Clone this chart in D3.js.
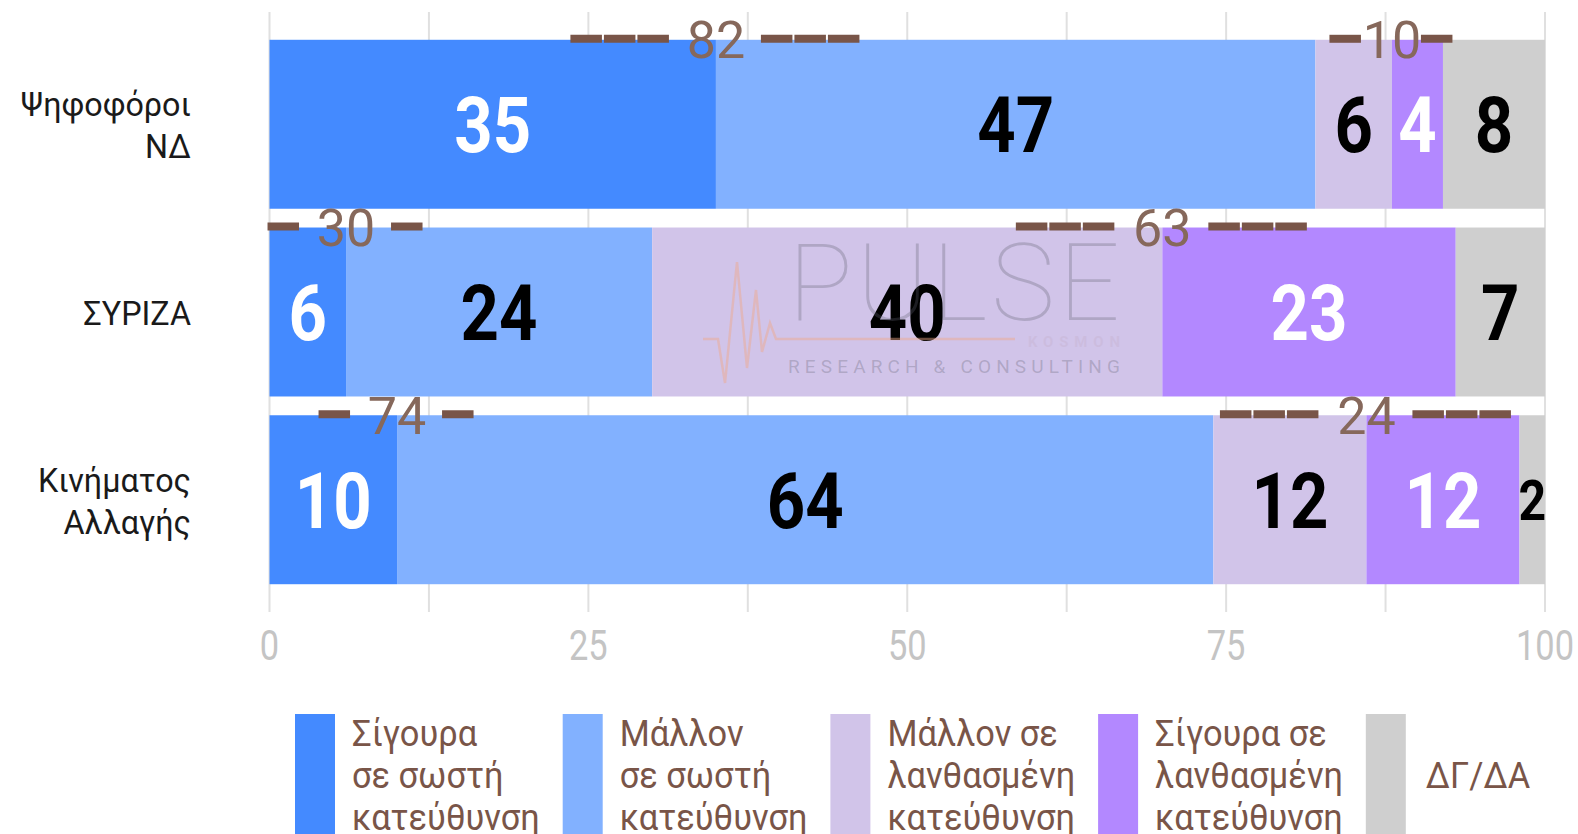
<!DOCTYPE html>
<html>
<head>
<meta charset="utf-8">
<script src="https://cdn.jsdelivr.net/npm/d3@7"></script>
<style>
  body { margin: 0; background: #fff; }
  text { font-family: Roboto, "Noto Sans", sans-serif; }
</style>
</head>
<body>
<script>
// chart data
var categories = ["Ψηφοφόροι ΝΔ", "ΣΥΡΙΖΑ", "Κινήματος Αλλαγής"];
var seriesKeys = ["s0", "s1", "s2", "s3", "s4"];
var surelyRight = [35, 6, 10];
var ratherRight = [47, 24, 64];
var ratherWrong = [6, 40, 12];
var surelyWrong = [4, 23, 12];
var dkNa = [8, 7, 2];
var legendLabels = [
    ["Σίγουρα", "σε σωστή", "κατεύθυνση"],
    ["Μάλλον", "σε σωστή", "κατεύθυνση"],
    ["Μάλλον σε", "λανθασμένη", "κατεύθυνση"],
    ["Σίγουρα σε", "λανθασμένη", "κατεύθυνση"],
    ["ΔΓ/ΔΑ"]
];
var xTicks = [0, 25, 50, 75, 100];
// totals shown above the bars: pairs of series that get summed
var annotGroups = [[0, 1], [2, 3]];
var annotDashes = [[3, 1], [1, 3], [1, 3]];
var annotGap = [[45, 29], [45, 46], [45, 46]];

var colors = ["#448aff", "#82b1ff", "#d1c4e9", "#b388ff", "#cfcfcf"];
var labelColors = ["#fff", "#000", "#000", "#fff", "#000"];
var brown = "#795548";

var width = 1578, height = 834;

var rows = categories.map(function (c, i) {
    return {cat: c, s0: surelyRight[i], s1: ratherRight[i], s2: ratherWrong[i], s3: surelyWrong[i], s4: dkNa[i]};
});

var svg = d3.select("body").append("svg")
    .attr("width", width)
    .attr("height", height);

var x = d3.scaleLinear().domain([0, 100]).range([269.5, 1545]);
var y = d3.scaleBand().domain(categories).range([12, 612])
    .paddingInner(0.1).paddingOuter(0.148);

// gridlines every 12.5
var grid = d3.range(0, 100.01, 12.5);
svg.append("g").selectAll("line").data(grid).enter().append("line")
    .attr("x1", function (d) { return x(d); })
    .attr("x2", function (d) { return x(d); })
    .attr("y1", 12)
    .attr("y2", 612)
    .attr("stroke", "#e0e0e0")
    .attr("stroke-width", 2);

// tick labels (condensed look)
svg.append("g").selectAll("text").data(xTicks).enter().append("text")
    .attr("transform", function (d) { return "translate(" + x(d) + ",660) scale(0.8,1)"; })
    .attr("text-anchor", "middle")
    .attr("font-size", 43)
    .attr("fill", "#c4c4c4")
    .text(function (d) { return d; });

var stack = d3.stack().keys(seriesKeys)(rows);

var layers = svg.append("g").selectAll("g").data(stack).enter().append("g")
    .attr("fill", function (d, i) { return colors[i]; });

layers.selectAll("rect").data(function (d) { return d; }).enter().append("rect")
    .attr("x", function (d) { return x(d[0]); })
    .attr("y", function (d) { return y(d.data.cat); })
    .attr("width", function (d) { return x(d[1]) - x(d[0]); })
    .attr("height", y.bandwidth());

// watermark
var wm = svg.append("g").attr("pointer-events", "none");
wm.append("path")
    .attr("d", "M703,339 L718,339 L725,383 L737,262 L747,368 L756,290 L762,352 L770,323 L776,339 L1015,339")
    .attr("fill", "none")
    .attr("stroke", "#f0a888")
    .attr("stroke-opacity", 0.45)
    .attr("stroke-width", 2.5);
wm.append("text")
    .attr("x", 788).attr("y", 320)
    .attr("textLength", 332)
    .attr("font-family", "Lato, Roboto, sans-serif")
    .attr("font-weight", 100)
    .attr("font-size", 108)
    .attr("fill", "#5f5f6f")
    .attr("fill-opacity", 0.3)
    .text("PULSE");
wm.append("text")
    .attr("x", 1028).attr("y", 347)
    .attr("textLength", 92)
    .attr("font-weight", 700)
    .attr("font-size", 15)
    .attr("fill", "#c9b8d8")
    .attr("fill-opacity", 0.6)
    .text("KOSMON");
wm.append("text")
    .attr("x", 788).attr("y", 373)
    .attr("textLength", 332)
    .attr("font-size", 19)
    .attr("fill", "#5f5f6f")
    .attr("fill-opacity", 0.3)
    .text("RESEARCH & CONSULTING");

// value labels inside the segments
layers.selectAll("text").data(function (d, i) {
        return d.map(function (p) { return {p: p, i: i}; });
    }).enter().append("text")
    .attr("transform", function (d) {
        var cx = (x(d.p[0]) + x(d.p[1])) / 2;
        var w = x(d.p[1]) - x(d.p[0]);
        var fs = Math.min(78, w * 2.2);
        var cy = y(d.p.data.cat) + y.bandwidth() / 2 + fs * 0.36;
        return "translate(" + cx + "," + cy + ") scale(0.86,1)";
    })
    .attr("text-anchor", "middle")
    .attr("font-weight", 700)
    .attr("font-size", function (d) { return Math.min(78, (x(d.p[1]) - x(d.p[0])) * 2.2); })
    .attr("fill", function (d) { return labelColors[d.i]; })
    .text(function (d) { return d.p[1] - d.p[0]; });

// category labels
var catG = svg.append("g").selectAll("text").data(categories).enter().append("text")
    .attr("text-anchor", "end")
    .attr("font-size", 34)
    .attr("fill", "#1a1a1a")
    .attr("transform", "translate(191,0) scale(0.95,1)");
catG.each(function (d) {
    var lines = d.split(" ");
    var cy = y(d) + y.bandwidth() / 2;
    var t = d3.select(this);
    lines.forEach(function (l, k) {
        t.append("tspan")
            .attr("x", 0)
            .attr("y", cy + 13 + (k - (lines.length - 1) / 2) * 42)
            .text(l);
    });
});

// pair totals with dashed rules on the bar top edge
var annots = [];
categories.forEach(function (c, ci) {
    annotGroups.forEach(function (g, gi) {
        var a = stack[g[0]][ci], b = stack[g[1]][ci];
        annots.push({
            cx: x(a[1]),
            top: y(c),
            total: (a[1] - a[0]) + (b[1] - b[0]),
            n: annotDashes[ci][gi],
            gap: annotGap[ci][gi]
        });
    });
});

var annG = svg.append("g").selectAll("g").data(annots).enter().append("g");
annG.append("line")
    .attr("x1", function (d) { return d.cx - d.gap - d.n * 33.5; })
    .attr("x2", function (d) { return d.cx - d.gap; })
    .attr("y1", function (d) { return d.top - 1; })
    .attr("y2", function (d) { return d.top - 1; });
annG.append("line")
    .attr("x1", function (d) { return d.cx + d.gap; })
    .attr("x2", function (d) { return d.cx + d.gap + d.n * 33.5; })
    .attr("y1", function (d) { return d.top - 1; })
    .attr("y2", function (d) { return d.top - 1; });
annG.selectAll("line")
    .attr("stroke", brown)
    .attr("stroke-width", 8)
    .attr("stroke-dasharray", "31.5,2");
annG.append("text")
    .attr("x", function (d) { return d.cx; })
    .attr("y", function (d) { return d.top + 18.5; })
    .attr("text-anchor", "middle")
    .attr("font-size", 52)
    .attr("fill", "#86685b")
    .text(function (d) { return d.total; });

// legend
var legend = svg.append("g").selectAll("g").data(legendLabels).enter().append("g")
    .attr("transform", function (d, i) { return "translate(" + (295 + i * 267.7) + ",0)"; });
legend.append("rect")
    .attr("x", 0).attr("y", 714)
    .attr("width", 40).attr("height", 120)
    .attr("fill", function (d, i) { return colors[i]; });
legend.append("text")
    .attr("font-size", 37)
    .attr("fill", brown)
    .attr("transform", function (d) {
        return "translate(" + (d.length === 1 ? 60 : 57) + ",0) scale(0.93,1)";
    })
    .each(function (d) {
        var t = d3.select(this);
        var first = d.length === 1 ? 788 : 746;
        d.forEach(function (l, k) {
            t.append("tspan")
                .attr("x", 0)
                .attr("y", first + k * 42)
                .text(l);
        });
    });
</script>
</body>
</html>
